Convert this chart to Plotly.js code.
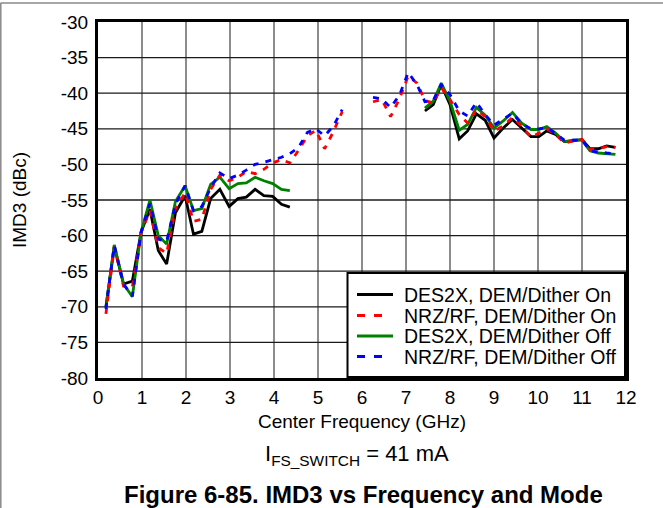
<!DOCTYPE html>
<html>
<head>
<meta charset="utf-8">
<script src="https://cdn.plot.ly/plotly-3.0.1.min.js"></script>
<style>html,body{margin:0;padding:0;background:#fff;}#chart{width:663px;height:508px;}</style>
</head>
<body>
<div id="chart"></div>
<script>
// Frequency grids (GHz)
const freqSolid = [0.18,0.37,0.58,0.78,0.98,1.18,1.37,1.56,1.76,1.98,2.17,2.36,2.56,2.77,2.98,3.18,3.37,3.57,3.77,3.97,4.17,4.36,
  5.9,
  7.43,7.62,7.8,8.0,8.21,8.4,8.6,8.8,9.0,9.21,9.42,9.63,9.84,10.02,10.2,10.4,10.6,10.8,11.0,11.18,11.37,11.56,11.76];
const freqDash = [0.18,0.37,0.58,0.78,0.98,1.18,1.37,1.56,1.76,1.98,2.17,2.36,2.56,2.77,2.98,3.18,3.37,3.57,3.77,3.97,4.17,4.36,4.56,4.76,4.95,5.15,5.35,5.55,
  5.9,
  6.25,6.45,6.65,6.85,7.05,7.25,
  7.43,7.62,7.8,8.0,8.21,8.4,8.6,8.8,9.0,9.21,9.42,9.63,9.84,10.02,10.2,10.4,10.6,10.8,11.0,11.18,11.37,11.56,11.76];

// IMD3 (dBc)
const des2xOn = [-70.0,-61.5,-66.8,-66.4,-59.5,-56.3,-62.1,-64.0,-56.8,-54.4,-59.8,-59.4,-54.8,-53.5,-55.9,-54.8,-54.6,-53.5,-54.4,-54.5,-55.6,-56.0,
  null,
  -42.5,-41.6,-38.8,-41.6,-46.4,-45.3,-42.9,-43.8,-46.3,-44.9,-43.7,-44.9,-46.1,-46.1,-45.3,-45.8,-46.8,-46.7,-46.5,-47.8,-47.8,-47.4,-47.6];
const des2xOff = [-70.2,-61.3,-66.8,-68.6,-59.5,-55.0,-60.0,-61.2,-55.2,-53.0,-56.5,-56.2,-52.8,-51.8,-53.4,-52.7,-52.6,-51.8,-52.3,-52.7,-53.5,-53.7,
  null,
  -42.1,-41.1,-38.6,-41.1,-45.2,-44.4,-42.0,-43.1,-44.9,-43.9,-42.7,-44.2,-45.1,-45.1,-44.7,-45.6,-46.8,-46.6,-46.6,-48.1,-48.4,-48.5,-48.6];
const nrzOn = [-71.0,-61.6,-67.1,-67.2,-59.6,-56.5,-61.7,-62.5,-56.2,-54.0,-58.0,-57.7,-53.5,-51.5,-52.3,-51.8,-51.0,-51.3,-50.7,-49.8,-49.3,-49.8,-48.0,-46.0,-45.2,-47.8,-45.4,-42.6,
  null,
  -41.2,-40.9,-43.3,-40.8,-37.6,-38.6,
  -41.0,-41.4,-39.2,-40.9,-43.0,-44.2,-42.3,-43.3,-45.3,-44.6,-43.4,-44.6,-46.2,-45.6,-45.0,-45.8,-47.0,-46.7,-46.5,-47.9,-47.8,-47.5,-47.6];
const nrzOff = [-70.3,-61.4,-66.8,-68.5,-59.5,-55.5,-60.5,-60.8,-55.6,-53.0,-56.5,-55.9,-53.3,-51.2,-52.0,-51.5,-50.8,-50.0,-49.7,-49.3,-49.0,-48.5,-47.6,-45.5,-45.0,-46.0,-44.6,-42.3,
  null,
  -40.6,-40.8,-42.0,-40.3,-37.1,-38.8,
  -41.2,-41.0,-38.8,-40.2,-42.5,-43.2,-41.3,-43.0,-44.5,-43.6,-42.8,-44.3,-45.0,-45.0,-44.8,-45.7,-46.6,-46.6,-46.5,-48.1,-48.3,-48.4,-48.5];

const seriesNames = ['DES2X, DEM/Dither On','NRZ/RF, DEM/Dither On','DES2X, DEM/Dither Off','NRZ/RF, DEM/Dither Off'];
const seriesColors = ['#000000','#ff0000','#008000','#0000ff'];
const seriesDash = ['solid','6px,7px','solid','6px,7px'];
const xTicks = [0,1,2,3,4,5,6,7,8,9,10,11,12];
const yTicks = [-80,-75,-70,-65,-60,-55,-50,-45,-40,-35,-30];

const FONT = '"Liberation Sans", Arial, sans-serif';
const LW = 2.8;

const traces = [
  {x: freqSolid, y: des2xOn, name: seriesNames[0], mode: 'lines', line: {color: seriesColors[0], width: LW}, connectgaps: false},
  {x: freqSolid, y: des2xOff, name: seriesNames[2], mode: 'lines', line: {color: seriesColors[2], width: LW}, connectgaps: false},
  {x: freqDash, y: nrzOn, name: seriesNames[1], mode: 'lines', line: {color: seriesColors[1], width: LW, dash: seriesDash[1]}, connectgaps: false},
  {x: freqDash, y: nrzOff, name: seriesNames[3], mode: 'lines', line: {color: seriesColors[3], width: LW, dash: seriesDash[3]}, connectgaps: false}
];

// pixel -> paper helpers (plot area: x 98..626, y 22..378)
const px = v => (v - 98) / 528;
const py = v => (378 - v) / 356;

const shapes = [];
// frame of the figure (top + left)
shapes.push({type: 'line', xref: 'paper', yref: 'paper', layer: 'below', x0: px(0.5), x1: px(663), y0: py(3), y1: py(3), line: {color: '#888', width: 1.5}});
shapes.push({type: 'line', xref: 'paper', yref: 'paper', layer: 'below', x0: px(0.8), x1: px(0.8), y0: py(3), y1: py(508), line: {color: '#888', width: 1.5}});
// grid lines at the tick values
xTicks.slice(1, -1).forEach(t => shapes.push({type: 'line', xref: 'x', yref: 'paper', layer: 'below', x0: t, x1: t, y0: 0, y1: 1, line: {color: '#8c8c8c', width: 2}}));
yTicks.slice(1, -1).forEach(t => shapes.push({type: 'line', xref: 'paper', yref: 'y', layer: 'below', x0: 0, x1: 1, y0: t, y1: t, line: {color: '#1a1a1a', width: 1.3}}));

// legend box
shapes.push({type: 'rect', xref: 'paper', yref: 'paper', layer: 'above', x0: px(347.5), x1: px(625), y0: py(377), y1: py(273), fillcolor: '#ffffff', line: {color: '#000', width: 2}});
const annotations = [];
const rowY = [294.5, 315.5, 336, 356.5];
seriesNames.forEach((name, i) => {
  const isDash = seriesDash[i] !== 'solid';
  shapes.push({type: 'line', xref: 'paper', yref: 'paper', layer: 'above',
    x0: px(357), x1: px(isDash ? 382 : 393), y0: py(rowY[i]), y1: py(rowY[i]),
    line: {color: seriesColors[i], width: LW, dash: isDash ? '8px,9px' : 'solid'}});
  annotations.push({xref: 'paper', yref: 'paper', x: px(402), y: py(rowY[i]), xanchor: 'left', yanchor: 'middle', showarrow: false,
    text: name, font: {family: FONT, size: 19.5, color: '#000'}});
});

annotations.push({xref: 'paper', yref: 'paper', x: px(357), y: py(455), xanchor: 'center', yanchor: 'middle', showarrow: false,
  text: 'I<sub>FS_SWITCH</sub> = 41 mA', font: {family: FONT, size: 22, color: '#000'}});
annotations.push({xref: 'paper', yref: 'paper', x: px(363), y: py(494), xanchor: 'center', yanchor: 'middle', showarrow: false,
  text: '<b>Figure 6-85. IMD3 vs Frequency and Mode</b>', font: {family: FONT, size: 24, color: '#000'}});

const layout = {
  width: 663, height: 508,
  margin: {l: 98, r: 37, t: 22, b: 130, pad: 0},
  paper_bgcolor: '#ffffff', plot_bgcolor: '#ffffff',
  font: {family: FONT, size: 19, color: '#000'},
  showlegend: false,
  xaxis: {
    range: [0, 12], tickmode: 'array', tickvals: xTicks, ticktext: xTicks.map(String),
    showgrid: false, zeroline: false, showline: true, linecolor: '#000', linewidth: 3, mirror: true,
    ticks: '', tickfont: {family: FONT, size: 19, color: '#000'},
    title: {text: 'Center Frequency (GHz)', font: {family: FONT, size: 19, color: '#000'}, standoff: 8}
  },
  yaxis: {
    range: [-80, -30], tickmode: 'array', tickvals: yTicks, ticktext: yTicks.map(String),
    showgrid: false, zeroline: false, showline: true, linecolor: '#000', linewidth: 3, mirror: true,
    ticks: '', ticklabelstandoff: 3, tickfont: {family: FONT, size: 19, color: '#000'},
    title: {text: 'IMD3 (dBc)', font: {family: FONT, size: 19, color: '#000'}, standoff: 30}
  },
  shapes: shapes,
  annotations: annotations
};

Plotly.newPlot('chart', traces, layout, {displayModeBar: false, staticPlot: true});
</script>
</body>
</html>
